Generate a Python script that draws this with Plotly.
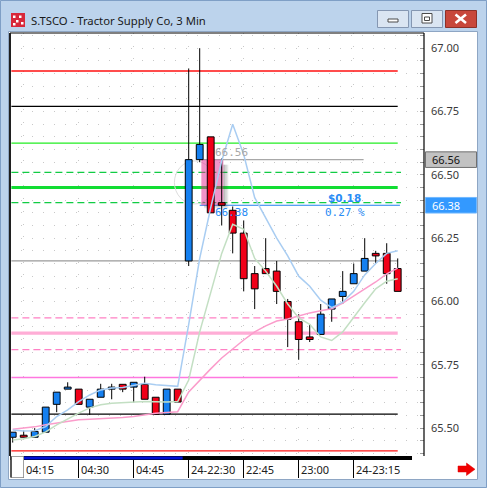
import plotly.graph_objects as go

# ---------------- 3-minute bars ----------------
times = ["04:12", "04:15", "04:18", "04:21", "04:24", "04:27", "04:30", "04:33", "04:36", "04:39",
         "04:42", "04:45", "04:48", "04:51", "04:54", "04:57",
         "22:30", "22:33", "22:36", "22:39", "22:42", "22:45", "22:48", "22:51", "22:54", "22:57",
         "23:00", "23:03", "23:06", "23:09", "23:12", "23:15", "23:18", "23:21", "23:24", "23:27"]

opens = [65.464, 65.472, 65.464, 65.484, 65.594, 65.654, 65.654, 65.583, 65.622, 65.654,
         65.673, 65.662, 65.673, 65.622, 65.555, 65.654,
         66.16, 66.56, 66.65, 66.39, 66.36, 66.27, 66.11, 66.13, 66.12, 66.00,
         65.92, 65.86, 65.87, 65.97, 66.02, 66.07, 66.12, 66.19, 66.19, 66.13]
highs = [65.484, 65.490, 65.500, 65.583, 65.642, 65.681, 65.654, 65.614, 65.675, 65.675,
         65.673, 65.681, 65.703, 65.622, 65.654, 65.654,
         66.92, 67.00, 66.65, 66.565, 66.375, 66.32, 66.14, 66.25, 66.16, 66.01,
         65.95, 65.91, 65.99, 66.01, 66.12, 66.15, 66.25, 66.20, 66.23, 66.17]
lows = [65.443, 65.464, 65.464, 65.484, 65.563, 65.654, 65.594, 65.552, 65.622, 65.614,
        65.642, 65.601, 65.614, 65.555, 65.555, 65.603,
        66.14, 66.55, 66.35, 66.30, 66.19, 66.04, 65.97, 66.11, 65.99, 65.82,
        65.77, 65.84, 65.87, 65.92, 65.99, 66.07, 66.12, 66.15, 66.07, 66.04]
closes = [65.484, 65.464, 65.487, 65.583, 65.642, 65.662, 65.594, 65.614, 65.654, 65.662,
          65.654, 65.681, 65.614, 65.555, 65.654, 65.603,
          66.56, 66.62, 66.35, 66.38, 66.27, 66.09, 66.05, 66.11, 66.04, 65.93,
          65.85, 65.85, 65.95, 66.01, 66.04, 66.11, 66.17, 66.18, 66.11, 66.04]

# ---------------- moving averages ----------------
ma_high = [65.493, 65.489, 65.490, 65.506, 65.546, 65.572, 65.605, 65.631, 65.651, 65.658,
           65.660, 65.668, 65.677, 65.671, 65.667, 65.665,
           65.91, 66.17, 66.37, 66.555, 66.70, 66.58, 66.41, 66.33, 66.25, 66.18,
           66.10, 66.06, 66.005, 65.976, 65.997, 66.04, 66.105, 66.15, 66.19, 66.20]
ma_low = [65.453, 65.458, 65.467, 65.485, 65.513, 65.537, 65.559, 65.580, 65.592, 65.598,
          65.601, 65.604, 65.605, 65.604, 65.603, 65.605,
          65.69, 65.88, 66.04, 66.19, 66.305, 66.285, 66.17, 66.12, 66.06, 65.99,
          65.935, 65.91, 65.86, 65.846, 65.88, 65.94, 65.995, 66.05, 66.08, 66.09]
ma_close = [65.496, 65.501, 65.505, 65.513, 65.519, 65.527, 65.533, 65.535, 65.537, 65.539,
            65.542, 65.546, 65.552, 65.559, 65.562, 65.565,
            65.643, 65.690, 65.734, 65.777, 65.813, 65.848, 65.880, 65.904, 65.923, 65.931,
            65.943, 65.955, 65.963, 65.971, 65.994, 66.022, 66.050, 66.077, 66.109, 66.132]

# ---------------- horizontal levels: price, colour, width, dash ----------------
level_prices = [66.91, 66.77, 66.625, 66.51, 66.45, 66.39, 66.16, 65.935, 65.875, 65.81, 65.70, 65.555, 65.41]
level_colors = ["#ff1010", "#000000", "#22ee22", "#11cc44", "#11dd33", "#11cc44", "#9a9a9a",
                "#ff80c4", "#ffadd6", "#ff80c4", "#ff77e0", "#000000", "#ff1010"]
level_widths = [1.3, 1.3, 1.3, 1.3, 3.2, 1.3, 1.3, 1.3, 3.2, 1.3, 1.3, 1.3, 1.3]
level_dashed = [False, False, False, True, False, True, False, True, False, True, False, False, False]

# ---------------- measured range ----------------
sel_hi, sel_lo = 66.56, 66.38
sel_x0, sel_x1 = 17.15, 19.15
change = sel_hi - sel_lo
change_pct = change / sel_hi * 100

# ---------------- axis labels ----------------
y_ticks = [round(65.40 + 0.05 * k, 2) for k in range(34)]
y_ticktext = [f"{v:.2f}" if abs(v * 4 - round(v * 4)) < 1e-6 else "" for v in y_ticks]
x_tick_idx = [1, 6, 11, 16, 21, 26, 31]
x_tick_text = ["04:15", "04:30", "04:45", "24-22:30", "22:45", "23:00", "24-23:15"]

W, H = 487, 488
PL, PR, PT, PB = 10, 424, 33, 456
FONT = "Segoe UI, Noto Sans, DejaVu Sans, sans-serif"


def px(x):
    return (x - PL) / (PR - PL)


def py(y):
    return (PB - y) / (PB - PT)


idx = list(range(len(times)))
n = len(idx)

fig = go.Figure()

# candle bodies
body_base = [min(o, c) for o, c in zip(opens, closes)]
body_h = [max(abs(c - o), 0.003) for o, c in zip(opens, closes)]
body_col = ["#1580f0" if c >= o else "#f00018" for o, c in zip(opens, closes)]

# wicks: above and below the body
wx, wy = [], []
for i in idx:
    top = max(opens[i], closes[i])
    bot = min(opens[i], closes[i])
    if highs[i] > top:
        wx += [i, i, None]
        wy += [top, highs[i], None]
    if lows[i] < bot:
        wx += [i, i, None]
        wy += [bot, lows[i], None]

fig.add_trace(go.Bar(x=idx, y=body_h, base=body_base, width=0.62,
                     marker=dict(color=body_col, line=dict(color="#000000", width=1)),
                     hoverinfo="skip", showlegend=False))
fig.add_trace(go.Scatter(x=wx, y=wy, mode="lines", line=dict(color="#000000", width=1),
                         hoverinfo="skip", showlegend=False))
fig.add_trace(go.Scatter(x=idx, y=ma_close, mode="lines", line=dict(color="#fb9ccb", width=1.5),
                         hoverinfo="skip", showlegend=False))
fig.add_trace(go.Scatter(x=idx, y=ma_low, mode="lines", line=dict(color="#c3dfc3", width=1.5),
                         hoverinfo="skip", showlegend=False))
fig.add_trace(go.Scatter(x=idx, y=ma_high, mode="lines", line=dict(color="#a9cdf2", width=1.5),
                         hoverinfo="skip", showlegend=False))

shapes = []

# window frame and client area
shapes.append(dict(type="rect", xref="paper", yref="paper", layer="below",
                   x0=px(0.5), x1=px(486.5), y0=py(487.5), y1=py(0.5),
                   line=dict(color="#7f9fc6", width=1), fillcolor="#bcd3ec"))
shapes.append(dict(type="rect", xref="paper", yref="paper", layer="below",
                   x0=px(8.5), x1=px(477.5), y0=py(479.5), y1=py(31.5),
                   line=dict(color="#8ea6c4", width=1), fillcolor="#ffffff"))

# level lines across the session
for p, c, w, d in zip(level_prices, level_colors, level_widths, level_dashed):
    shapes.append(dict(type="line", xref="x", yref="y", layer="between",
                       x0=-0.12, x1=(n - 1) + (0.3 if d else 0.0), y0=p, y1=p,
                       line=dict(color=c, width=w, dash="7px,4px" if d else "solid")))

# measured range markers
shapes.append(dict(type="line", xref="x", yref="y", layer="between",
                   x0=sel_x0 - 0.15, x1=31.9, y0=sel_hi, y1=sel_hi,
                   line=dict(color="#a8a8a8", width=1.2)))
shapes.append(dict(type="line", xref="x", yref="y", layer="between",
                   x0=sel_x0 - 0.15, x1=(n - 1) + 0.2, y0=sel_lo, y1=sel_lo,
                   line=dict(color="#1f7ff0", width=1.2)))
shapes.append(dict(type="circle", xref="x", yref="y", layer="between",
                   x0=sel_x0 - 2.45, x1=sel_x0 + 1.2, y0=sel_lo + 0.005, y1=sel_hi - 0.005,
                   line=dict(color="#dddddd", width=1), fillcolor="rgba(0,0,0,0)"))
# soft drop shadow on the right and bottom edges of the range box
for k in range(1, 4):
    shapes.append(dict(type="rect", xref="x", yref="y", layer="between",
                       x0=sel_x1, x1=sel_x1 + 0.15 * k, y0=sel_lo - 0.004 * k, y1=sel_hi - 0.02,
                       line=dict(width=0), fillcolor="rgba(70,70,70,0.13)"))
    shapes.append(dict(type="rect", xref="x", yref="y", layer="between",
                       x0=sel_x0 + 0.25, x1=sel_x1, y0=sel_lo - 0.004 * k, y1=sel_lo,
                       line=dict(width=0), fillcolor="rgba(70,70,70,0.10)"))
shapes.append(dict(type="rect", xref="x", yref="y", layer="between",
                   x0=sel_x0, x1=sel_x1, y0=sel_lo, y1=sel_hi,
                   line=dict(width=0), fillcolor="rgba(228,40,145,0.5)"))

# plot frame
shapes.append(dict(type="line", xref="paper", yref="paper", x0=0, x1=1, y0=1, y1=1,
                   line=dict(color="#000000", width=1.2)))
shapes.append(dict(type="line", xref="paper", yref="paper", x0=px(10), x1=px(10), y0=0, y1=1,
                   line=dict(color="#202020", width=2)))
shapes.append(dict(type="line", xref="paper", yref="paper", x0=1, x1=1, y0=0, y1=1,
                   line=dict(color="#000000", width=1.2)))
# time-scale strip under the plot, with the earlier session marked in blue
shapes.append(dict(type="rect", xref="x", yref="paper", x0=-0.3, x1=36.3, y0=py(460), y1=py(456),
                   line=dict(width=0), fillcolor="#000000"))
shapes.append(dict(type="rect", xref="x", yref="paper", x0=1, x1=15.45, y0=py(459.5), y1=py(456.5),
                   line=dict(width=0), fillcolor="#0010d8"))
# scroll thumb
shapes.append(dict(type="rect", xref="paper", yref="paper", x0=px(11), x1=px(23.5), y0=py(477.5), y1=py(456.5),
                   line=dict(color="#a0a0a0", width=1), fillcolor="#ffffff"))
shapes.append(dict(type="line", xref="paper", yref="paper", x0=px(11), x1=px(11), y0=py(477.5), y1=py(456.5),
                   line=dict(color="#303030", width=1.5)))
# red scroll arrow
arrow = [(458, 466), (466.5, 466), (466.5, 463), (475, 469.3), (466.5, 475.5), (466.5, 472), (458, 472)]
shapes.append(dict(type="path", xref="paper", yref="paper",
                   path="M " + " L ".join(f"{px(a):.5f},{py(b):.5f}" for a, b in arrow) + " Z",
                   line=dict(color="#e00000", width=0.5), fillcolor="#f00000"))

# price tags on the axis
for p, fill, edge in [(sel_hi, "#c2c2c2", "#707070"), (sel_lo, "#3399ff", "#70b8ff")]:
    shapes.append(dict(type="rect", xref="paper", yref="y", xsizemode="pixel", ysizemode="pixel",
                       xanchor=1, yanchor=p, x0=1.5, x1=52.5, y0=-7.8, y1=7.8,
                       line=dict(color=edge, width=1), fillcolor=fill))

# title bar buttons
for x0, x1, fill, edge in [(377.5, 408.5, "#dae5f2", "#8597b2"), (411.5, 442.5, "#dae5f2", "#8597b2"),
                           (445.5, 476.5, "#c8473b", "#8c3028")]:
    shapes.append(dict(type="rect", xref="paper", yref="paper", x0=px(x0), x1=px(x1), y0=py(27.5), y1=py(10.5),
                       line=dict(color=edge, width=1), fillcolor=fill))
shapes.append(dict(type="rect", xref="paper", yref="paper", x0=px(388), x1=px(398), y0=py(22), y1=py(19),
                   line=dict(color="#4a4a4a", width=1), fillcolor="#ffffff"))
shapes.append(dict(type="rect", xref="paper", yref="paper", x0=px(422), x1=px(432), y0=py(23), y1=py(13.5),
                   line=dict(color="#4a4a4a", width=1), fillcolor="#ffffff"))
shapes.append(dict(type="rect", xref="paper", yref="paper", x0=px(424.5), x1=px(429.5), y0=py(20.5), y1=py(17),
                   line=dict(color="#4a4a4a", width=1), fillcolor="#ffffff"))
for a, b, c, d in [(455.5, 14.5, 466, 23), (455.5, 23, 466, 14.5)]:
    shapes.append(dict(type="line", xref="paper", yref="paper", x0=px(a), x1=px(c), y0=py(b), y1=py(d),
                       line=dict(color="#ffffff", width=2.6)))
# window icon
shapes.append(dict(type="rect", xref="paper", yref="paper", x0=px(11), x1=px(25), y0=py(27), y1=py(13),
                   line=dict(width=0), fillcolor="#d8283a"))
for a, b in [(13, 15.5), (19, 15.5), (16, 20), (13, 23), (21, 22)]:
    shapes.append(dict(type="rect", xref="paper", yref="paper", x0=px(a), x1=px(a + 2.5), y0=py(b + 2.5), y1=py(b),
                       line=dict(width=0), fillcolor="#ffffff"))

annotations = []
annotations.append(dict(xref="paper", yref="paper", x=px(29), y=py(20), xanchor="left", yanchor="middle",
                        text="S.TSCO - Tractor Supply Co, 3 Min", showarrow=False,
                        font=dict(family=FONT, size=11.3, color="#1a1a1a")))
for i, t in zip(x_tick_idx, x_tick_text):
    annotations.append(dict(xref="x", yref="paper", x=i, y=py(469), xanchor="left", yanchor="middle",
                            xshift=0, text=t, showarrow=False,
                            font=dict(family=FONT, size=11, color="#202020")))
for p, col in [(sel_hi, "#111111"), (sel_lo, "#ffffff")]:
    annotations.append(dict(xref="paper", yref="y", x=1, y=p, xanchor="left", yanchor="middle",
                            xshift=6, text=f"{p:.2f}", showarrow=False,
                            font=dict(family=FONT, size=11, color=col)))
annotations.append(dict(xref="x", yref="y", x=sel_x1 - 0.9, y=sel_hi, xanchor="left", yanchor="bottom",
                        yshift=-1, text=f"{sel_hi:.2f}", showarrow=False,
                        font=dict(family="DejaVu Sans Mono, monospace", size=11, color="#a8a8a8")))
annotations.append(dict(xref="x", yref="y", x=sel_x1 - 0.9, y=sel_lo, xanchor="left", yanchor="top",
                        yshift=1, text=f"{sel_lo:.2f}", showarrow=False,
                        font=dict(family="DejaVu Sans Mono, monospace", size=11, color="#2a8cf5")))
annotations.append(dict(xref="x", yref="y", x=30.2, y=sel_lo, xanchor="center", yanchor="bottom",
                        yshift=-1, text=f"<b>${change:.2f}</b>", showarrow=False,
                        font=dict(family="DejaVu Sans, sans-serif", size=10.5, color="#2a8cf5")))
annotations.append(dict(xref="x", yref="y", x=30.2, y=sel_lo, xanchor="center", yanchor="top",
                        yshift=1, text=f"{change_pct:.2f} %", showarrow=False,
                        font=dict(family="DejaVu Sans Mono, monospace", size=11, color="#2a8cf5")))

fig.update_layout(
    width=W, height=H, autosize=False,
    margin=dict(l=PL, r=W - PR, t=PT, b=H - PB, pad=0),
    paper_bgcolor="#bcd3ec", plot_bgcolor="#ffffff",
    showlegend=False, barmode="overlay",
    shapes=shapes, annotations=annotations,
    xaxis=dict(range=[-0.245, 37.39], tickvals=x_tick_idx, ticktext=[""] * len(x_tick_idx),
               showticklabels=False, ticks="outside", ticklen=21, tickcolor="#000000", tickwidth=1,
               showgrid=True, gridcolor="#c8c8c8", griddash="1px,11.7px", gridwidth=1,
               zeroline=False, showline=False, fixedrange=True),
    yaxis=dict(range=[65.390, 67.060], side="right", tickvals=y_ticks, ticktext=y_ticktext,
               ticks="inside", ticklen=4, tickcolor="#9a9a9a", tickwidth=1,
               ticklabelstandoff=6,
               tickfont=dict(family=FONT, size=11, color="#3a3a3a"),
               showgrid=True, gridcolor="#c8c8c8", griddash="1px,10px", gridwidth=1,
               zeroline=False, showline=False, fixedrange=True),
)

fig.write_html("out.html")
